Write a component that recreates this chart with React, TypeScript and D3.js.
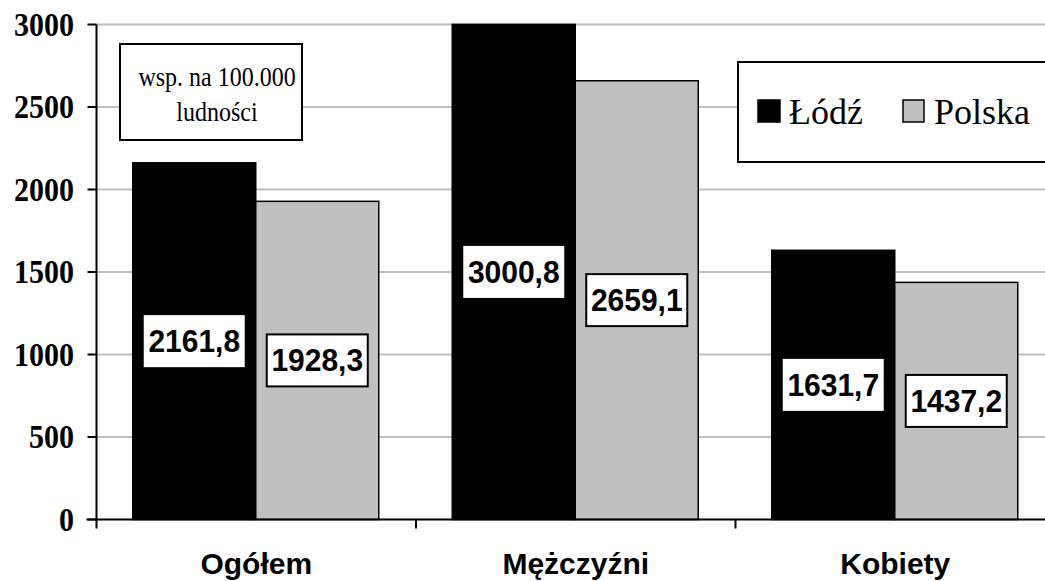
import React from "react";
import * as d3 from "d3";

// Zachorowalność: wsp. na 100.000 ludności
const categories = ["Ogółem", "Mężczyźni", "Kobiety"];
const seriesNames = ["Łódź", "Polska"];
const lodzValues = [2161.8, 3000.8, 1631.7];
const polskaValues = [1928.3, 2659.1, 1437.2];
const yTicks = [0, 500, 1000, 1500, 2000, 2500, 3000];

const W = 1045;
const H = 581;
const serif = "'Liberation Serif', 'Times New Roman', serif";
const sans = "'Liberation Sans', Arial, sans-serif";
const seriesFill = ["#000000", "#c0c0c0"];

const fmt = (v: number) => v.toFixed(1).replace(".", ",");

export default function App() {
  const left = 96.5;
  const catW = 319.5;
  const y = d3.scaleLinear().domain([0, 3000]).range([519.5, 24.5]);
  const x = d3
    .scaleBand<string>()
    .domain(categories)
    .range([left, left + catW * categories.length])
    .padding(0);
  const groupW = catW * 0.77;
  const inner = d3.scaleBand<string>().domain(seriesNames).range([0, groupW]).padding(0);
  const groupOffset = (x.bandwidth() - groupW) / 2 - 0.5;

  const data = categories.map((c, i) => ({
    cat: c,
    values: [lodzValues[i], polskaValues[i]],
  }));

  const boxW = 101;
  const boxH = 52;

  return (
    <svg
      width={W}
      height={H}
      style={{ position: "absolute", left: 0, top: 0, background: "#fff", overflow: "hidden" }}
    >
      {/* horizontal gridlines */}
      {yTicks.slice(1).map((t) => (
        <line key={t} x1={left} x2={W} y1={y(t)} y2={y(t)} stroke="#c0c0c0" strokeWidth={2} />
      ))}

      {/* bars */}
      {data.map((d) =>
        d.values.map((v, si) => {
          const bx = (x(d.cat) as number) + groupOffset + (inner(seriesNames[si]) as number);
          return (
            <rect
              key={d.cat + si}
              x={bx}
              y={y(v)}
              width={inner.bandwidth()}
              height={y(0) - y(v)}
              fill={seriesFill[si]}
              stroke="#000"
              strokeWidth={1.5}
            />
          );
        })
      )}

      {/* value labels */}
      {data.map((d) =>
        d.values.map((v, si) => {
          const cx =
            (x(d.cat) as number) + groupOffset + (inner(seriesNames[si]) as number) + inner.bandwidth() / 2;
          const cy = (y(v) + y(0)) / 2;
          return (
            <g key={"l" + d.cat + si}>
              <rect
                x={cx - boxW / 2}
                y={cy - boxH / 2}
                width={boxW}
                height={boxH}
                fill="#fff"
                stroke={si === 1 ? "#000" : "none"}
                strokeWidth={2}
              />
              <text
                transform={`translate(${cx},${cy + 11}) scale(1,1.05)`}
                textAnchor="middle"
                fontFamily={sans}
                fontWeight="bold"
                fontSize={30}
                fill="#000"
              >
                {fmt(v)}
              </text>
            </g>
          );
        })
      )}

      {/* axes */}
      <line x1={left} x2={left} y1={y(3000)} y2={y(0)} stroke="#000" strokeWidth={2} />
      <line x1={left - 10} x2={W} y1={y(0)} y2={y(0)} stroke="#000" strokeWidth={2} />
      {yTicks.map((t) => (
        <g key={"yt" + t}>
          <line x1={left - 9} x2={left} y1={y(t)} y2={y(t)} stroke="#000" strokeWidth={2} />
          <text
            transform={`translate(74,${y(t) + 11}) scale(1,1.1)`}
            textAnchor="end"
            fontFamily={serif}
            fontWeight="bold"
            fontSize={30}
            fill="#000"
          >
            {t}
          </text>
        </g>
      ))}
      {categories.map((c) => (
        <line
          key={"xt" + c}
          x1={x(c) as number}
          x2={x(c) as number}
          y1={y(0)}
          y2={y(0) + 9}
          stroke="#000"
          strokeWidth={2}
        />
      ))}
      {categories.map((c) => (
        <text
          key={"xl" + c}
          x={(x(c) as number) + x.bandwidth() / 2}
          y={574}
          textAnchor="middle"
          fontFamily={sans}
          fontWeight="bold"
          fontSize={30}
          fill="#000"
        >
          {c}
        </text>
      ))}

      {/* unit note */}
      <rect x={120} y={44} width={182} height={96} fill="#fff" stroke="#000" strokeWidth={2} />
      <g fontFamily={serif} fontSize={24} fill="#000" textAnchor="middle">
        <text transform="translate(217,86) scale(1,1.18)">wsp. na 100.000</text>
        <text transform="translate(217,121) scale(1,1.18)">ludności</text>
      </g>

      {/* legend */}
      <rect x={738} y={62} width={330} height={100} fill="#fff" stroke="#000" strokeWidth={2} />
      <rect x={758} y={100} width={22} height={22} fill={seriesFill[0]} stroke="#000" strokeWidth={1.5} />
      <text x={789} y={124} fontFamily={serif} fontSize={36} fill="#000">
        {seriesNames[0]}
      </text>
      <rect x={903} y={100} width={21} height={22} fill={seriesFill[1]} stroke="#000" strokeWidth={1.5} />
      <text x={934} y={124} fontFamily={serif} fontSize={36} fill="#000">
        {seriesNames[1]}
      </text>
    </svg>
  );
}
